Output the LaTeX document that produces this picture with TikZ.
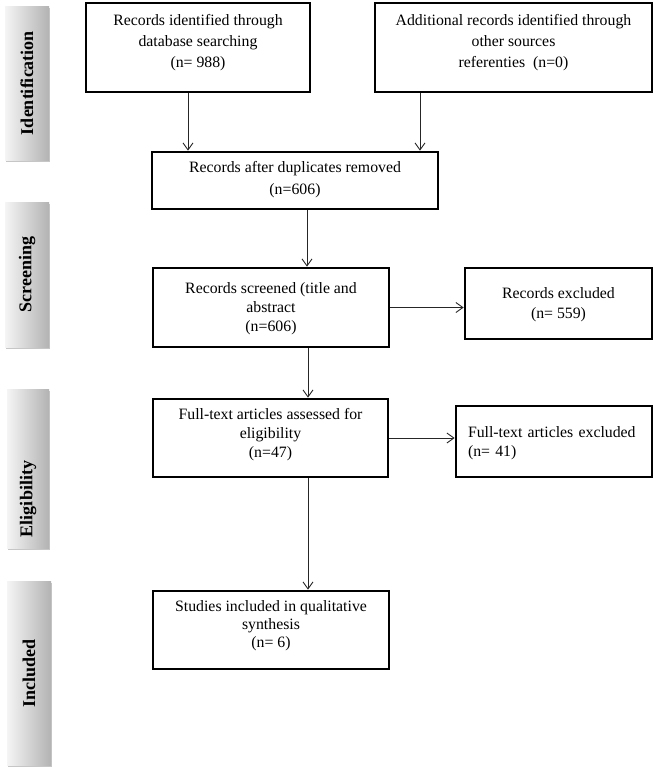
\documentclass[tikz,border=0pt]{standalone}
\usepackage{fontspec}
\setmainfont{Liberation Serif}
\usetikzlibrary{arrows.meta, positioning, shadows}

\begin{document}
\begin{tikzpicture}[x=1pt, y=-1pt, >={Straight Barb[length=7pt, width=10pt]},
    box/.style={draw, line width=2.7pt, align=center, inner sep=3pt, text depth=11pt,
        font=\fontsize{15.8}{19}\selectfont},
    phase/.style={left color=gray!8, right color=gray!60, minimum width=44pt,
        drop shadow={shadow xshift=1pt, shadow yshift=-1.5pt, opacity=0.45}},
    phasetxt/.style={rotate=90, font=\fontsize{18}{20}\selectfont\bfseries},
    link/.style={->, line width=0.9pt, black!85}]
    \useasboundingbox (0,0) rectangle (656,780);

    % phase bars on the left
    \node[phase, minimum height=154pt] (idbar) at (27,83) {};
    \node[phasetxt] (idtxt) at (idbar.center) {Identification};
    \node[phase, minimum height=145pt] (scrbar) at (27,274.5) {};
    \node[phasetxt] (scrtxt) at (scrbar.center) {Screening};
    \node[phase, minimum width=42pt, minimum height=159pt] (eligbar) at (28,468.5) {};
    \node[phasetxt] (eligtxt) at ([yshift=-30.5pt]eligbar.center) {Eligibility};
    \node[phase, minimum height=184pt] (inclbar) at (29,673) {};
    \node[phasetxt] (incltxt) at (inclbar.center) {Included};

    % identification
    \node[box, minimum width=224pt, minimum height=89pt, text depth=14pt,
        font=\fontsize{15.8}{21}\selectfont] (db) at (198,47.5) {
        Records identified through \\
        database searching \\
        (n= 988)
    };
    \node[box, minimum width=277pt, minimum height=89pt, text depth=14pt,
        font=\fontsize{15.8}{21}\selectfont] (other) at (513.5,47.5) {
        Additional records identified through \\
        other sources \\
        referenties\ \ (n=0)
    };
    \node[box, minimum width=286pt, minimum height=57pt, text depth=4.5pt,
        font=\fontsize{15.8}{22}\selectfont] (dup) at (295,180.5) {
        Records after duplicates removed \\
        (n=606)
    };

    % screening
    \node[box, minimum width=236pt, minimum height=79pt, text depth=0pt] (scr) at (271,307.5) {
        Records screened (title and \\
        abstract \\
        (n=606)
    };
    \node[box, minimum width=187pt, minimum height=71pt, text depth=0pt,
        font=\fontsize{15.8}{20}\selectfont] (excl) at (558.5,303.5) {
        Records excluded \\
        (n= 559)
    };

    % eligibility
    \node[box, minimum width=235pt, minimum height=78pt, text depth=10.5pt] (full) at (270.5,438) {
        Full-text articles assessed for \\
        eligibility \\
        (n=47)
    };
    \node[box, minimum width=196pt, minimum height=71pt, text depth=19pt,
        text width=172pt, align=left] (ftex) at (554,441.5) {
        Full-text articles excluded \\
        (n= 41)
    };

    % included
    \node[box, minimum width=236pt, minimum height=78pt, text depth=11.5pt,
        font=\fontsize{15.8}{18}\selectfont] (incl) at (271,630) {
        Studies included in qualitative \\
        synthesis \\
        (n= 6)
    };

    \draw[link] ([xshift=-10pt]db.south) -- ([xshift=-10pt]db.south |- dup.north);
    \draw[link] ([xshift=-93.5pt]other.south) -- ([xshift=-93.5pt]other.south |- dup.north);
    \draw[link] ([xshift=12pt]dup.south) -- ([xshift=12pt]dup.south |- scr.north);
    \draw[link] (scr.east) -- (scr.east -| excl.west);
    \draw[link] ([xshift=37pt]scr.south) -- ([xshift=37pt]scr.south |- full.north);
    \draw[link] (full.east) -- (full.east -| ftex.west);
    \draw[link] ([xshift=37.5pt]full.south) -- ([xshift=37.5pt]full.south |- incl.north);
\end{tikzpicture}
\end{document}
